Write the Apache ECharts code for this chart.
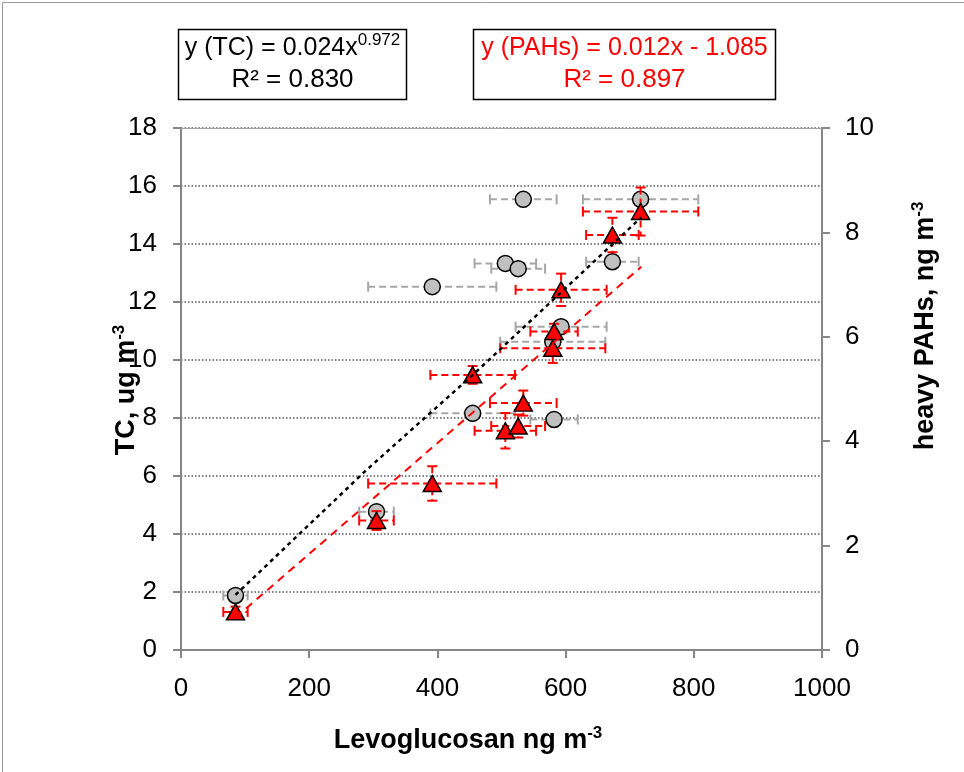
<!DOCTYPE html>
<html><head><meta charset="utf-8">
<script src="https://cdn.jsdelivr.net/npm/echarts@6/dist/echarts.min.js"></script>
<style>html,body{margin:0;padding:0;background:#fff}#c{width:964px;height:772px}</style>
</head><body><div id="c"></div>
<script>
// ---- data ----
const levoglucosan = [85, 305, 392, 455, 506, 526, 534, 582, 580, 593, 673, 717];
const tcValues     = [1.88, 4.77, 12.53, 8.16, 13.33, 13.15, 15.54, 7.95, 10.63, 11.15, 13.39, 15.54];
const pahValues    = [0.73, 2.48, 3.19, 5.27, 4.20, 4.29, 4.73, 6.10, 5.78, 6.90, 7.95, 8.40];
const levoError    = [19, 27, 100, 66, 48, 42, 52, 37, 82, 71, 41, 90];
const pahError     = [0.10, 0.18, 0.33, 0.17, 0.34, 0.22, 0.24, 0.15, 0.28, 0.31, 0.33, 0.46];
const tcTrendX  = [85, 289, 456, 718];
const tcTrendY  = [1.90, 6.20, 9.50, 14.92];
const pahTrendX = [85, 718];
const pahTrendY = [0.62, 7.34];
const xTicks = [0, 200, 400, 600, 800, 1000];
const tcTicks = [0, 2, 4, 6, 8, 10, 12, 14, 16, 18];
const pahTicks = [0, 2, 4, 6, 8, 10];
const eqTC = ['y (TC) = 0.024x', '0.972', 'R² = 0.830'];
const eqPAH = ['y (PAHs) = 0.012x - 1.085', 'R² = 0.897'];

const FONT = '"Liberation Sans", Arial, sans-serif';
const AXC = '#868686';

function errRender(color, withY) {
  return function (params, api) {
    const x = api.value(0), y = api.value(1), ex = api.value(2);
    const L = api.coord([x - ex, y]), R = api.coord([x + ex, y]);
    const dash = { stroke: color, lineWidth: 2, lineDash: [7, 4], fill: null };
    const solid = { stroke: color, lineWidth: 2, fill: null };
    const cap = 5;
    const ch = [
      { type: 'line', shape: { x1: L[0], y1: L[1], x2: R[0], y2: R[1] }, style: dash },
      { type: 'line', shape: { x1: L[0], y1: L[1] - cap, x2: L[0], y2: L[1] + cap }, style: solid },
      { type: 'line', shape: { x1: R[0], y1: R[1] - cap, x2: R[0], y2: R[1] + cap }, style: solid }
    ];
    if (withY) {
      const ey = api.value(3);
      const T = api.coord([x, y + ey]), B = api.coord([x, y - ey]);
      ch.push({ type: 'line', shape: { x1: T[0], y1: T[1], x2: B[0], y2: B[1] }, style: dash });
      ch.push({ type: 'line', shape: { x1: T[0] - cap, y1: T[1], x2: T[0] + cap, y2: T[1] }, style: solid });
      ch.push({ type: 'line', shape: { x1: B[0] - cap, y1: B[1], x2: B[0] + cap, y2: B[1] }, style: solid });
    }
    return { type: 'group', children: ch };
  };
}

const tcErrData = levoglucosan.map((x, i) => [x, tcValues[i], levoError[i]]);
const pahErrData = levoglucosan.map((x, i) => [x, pahValues[i], levoError[i], pahError[i]]);
const tcPts = levoglucosan.map((x, i) => [x, tcValues[i]]);
const pahPts = levoglucosan.map((x, i) => [x, pahValues[i]]);
const tcTrend = tcTrendX.map((x, i) => [x, tcTrendY[i]]);
const pahTrend = pahTrendX.map((x, i) => [x, pahTrendY[i]]);

const labelStyle = { color: '#000', fontSize: 26, fontFamily: FONT, formatter: v => String(v) };

function titleText(x, y, rot, main, sup) {
  return { type: 'text', x: x, y: y, rotation: rot, z: 100,
    style: { text: '{a|' + main + '}{s|' + sup + '}', align: 'center', verticalAlign: 'middle',
      rich: { a: { fontSize: 27, fontWeight: 'bold', fontFamily: FONT, fill: '#000', lineHeight: 32 },
              s: { fontSize: 17, fontWeight: 'bold', fontFamily: FONT, fill: '#000', lineHeight: 12, verticalAlign: 'top' } } } };
}

const chart = echarts.init(document.getElementById('c'), null, { renderer: 'canvas' });
chart.setOption({
  animation: false,
  backgroundColor: '#fff',
  grid: { left: 181, right: 142, top: 128, bottom: 122, containLabel: false },
  xAxis: [{
    type: 'value', min: xTicks[0], max: xTicks[xTicks.length - 1], interval: xTicks[1] - xTicks[0],
    axisLine: { show: true, onZero: false, lineStyle: { color: AXC, width: 2 } },
    axisTick: { show: true, length: 8, lineStyle: { color: AXC, width: 2 } },
    axisLabel: Object.assign({ margin: 26 }, labelStyle),
    splitLine: { show: false }
  }, {
    type: 'value', position: 'top', min: xTicks[0], max: xTicks[xTicks.length - 1],
    axisLine: { show: true, onZero: false, lineStyle: { color: '#a0a0a0', width: 1 } },
    axisTick: { show: false }, axisLabel: { show: false }, splitLine: { show: false }
  }],
  yAxis: [{
    type: 'value', position: 'left', min: tcTicks[0], max: tcTicks[tcTicks.length - 1], interval: tcTicks[1] - tcTicks[0],
    axisLine: { show: true, onZero: false, lineStyle: { color: AXC, width: 2 } },
    axisTick: { show: true, length: 8, lineStyle: { color: AXC, width: 2 } },
    axisLabel: Object.assign({ margin: 24 }, labelStyle),
    splitLine: { show: true, lineStyle: { color: '#555', width: 1.5, type: [1.5, 2] } }
  }, {
    type: 'value', position: 'right', min: pahTicks[0], max: pahTicks[pahTicks.length - 1], interval: pahTicks[1] - pahTicks[0],
    axisLine: { show: true, onZero: false, lineStyle: { color: AXC, width: 2 } },
    axisTick: { show: true, length: 8, lineStyle: { color: AXC, width: 2 } },
    axisLabel: Object.assign({ margin: 23 }, labelStyle),
    splitLine: { show: false }
  }],
  series: [
    { type: 'custom', name: 'TC err', xAxisIndex: 0, yAxisIndex: 0, data: tcErrData, renderItem: errRender('#a6a6a6', false), encode: { x: 0, y: 1 }, z: 2, clip: false, silent: true },
    { type: 'scatter', name: 'TC', xAxisIndex: 0, yAxisIndex: 0, data: tcPts, symbol: 'circle', symbolSize: 16, z: 3,
      itemStyle: { color: '#c0c0c0', borderColor: '#000', borderWidth: 1.5, opacity: 1 } },
    { type: 'custom', name: 'PAH err', xAxisIndex: 0, yAxisIndex: 1, data: pahErrData, renderItem: errRender('#ff0000', true), encode: { x: 0, y: 1 }, z: 4, clip: false, silent: true },
    { type: 'scatter', name: 'PAHs', xAxisIndex: 0, yAxisIndex: 1, data: pahPts, symbol: 'triangle', symbolSize: [18, 16], z: 5,
      itemStyle: { color: '#ff0000', borderColor: '#000', borderWidth: 1.5, opacity: 1 } },
    { type: 'line', name: 'TC trend', xAxisIndex: 0, yAxisIndex: 0, data: tcTrend, symbol: 'none', z: 6, silent: true,
      lineStyle: { color: '#000', width: 2.5, type: [4, 4] } },
    { type: 'line', name: 'PAH trend', xAxisIndex: 0, yAxisIndex: 1, data: pahTrend, symbol: 'none', z: 6, silent: true,
      lineStyle: { color: '#ff0000', width: 2, type: [8, 6] } }
  ],
  graphic: [
    { type: 'rect', left: 0, top: 0, shape: { x: 0.5, y: 0.5, width: 963, height: 771 }, style: { fill: null, stroke: '#9a9a9a', lineWidth: 1 }, silent: true },
    // TC equation box
    { type: 'rect', shape: { x: 178.5, y: 29.5, width: 228, height: 70 }, style: { fill: '#fff', stroke: '#000', lineWidth: 1.5 }, z: 99 },
    { type: 'text', x: 292.5, y: 48, z: 100,
      style: { text: '{a|' + eqTC[0] + '}{s|' + eqTC[1] + '}', align: 'center', verticalAlign: 'middle',
        rich: { a: { fontSize: 25, fontFamily: FONT, fill: '#000', lineHeight: 32 },
                s: { fontSize: 17, fontFamily: FONT, fill: '#000', lineHeight: 10, verticalAlign: 'top' } } } },
    { type: 'text', x: 292.5, y: 80, z: 100,
      style: { text: eqTC[2], align: 'center', verticalAlign: 'middle', fontSize: 26, fontFamily: FONT, fill: '#000' } },
    // PAH equation box
    { type: 'rect', shape: { x: 473.5, y: 29.5, width: 302, height: 70 }, style: { fill: '#fff', stroke: '#000', lineWidth: 1.5 }, z: 99 },
    { type: 'text', x: 624.5, y: 48, z: 100,
      style: { text: eqPAH[0], align: 'center', verticalAlign: 'middle', fontSize: 25, fontFamily: FONT, fill: '#ff0000' } },
    { type: 'text', x: 624.5, y: 80, z: 100,
      style: { text: eqPAH[1], align: 'center', verticalAlign: 'middle', fontSize: 26, fontFamily: FONT, fill: '#ff0000' } },
    titleText(468, 741, 0, 'Levoglucosan ng m', '-3'),
    titleText(127, 390, Math.PI / 2, 'TC, ug m', '-3'),
    titleText(926, 326, Math.PI / 2, 'heavy PAHs, ng m', '-3')
  ]
});
</script></body></html>
